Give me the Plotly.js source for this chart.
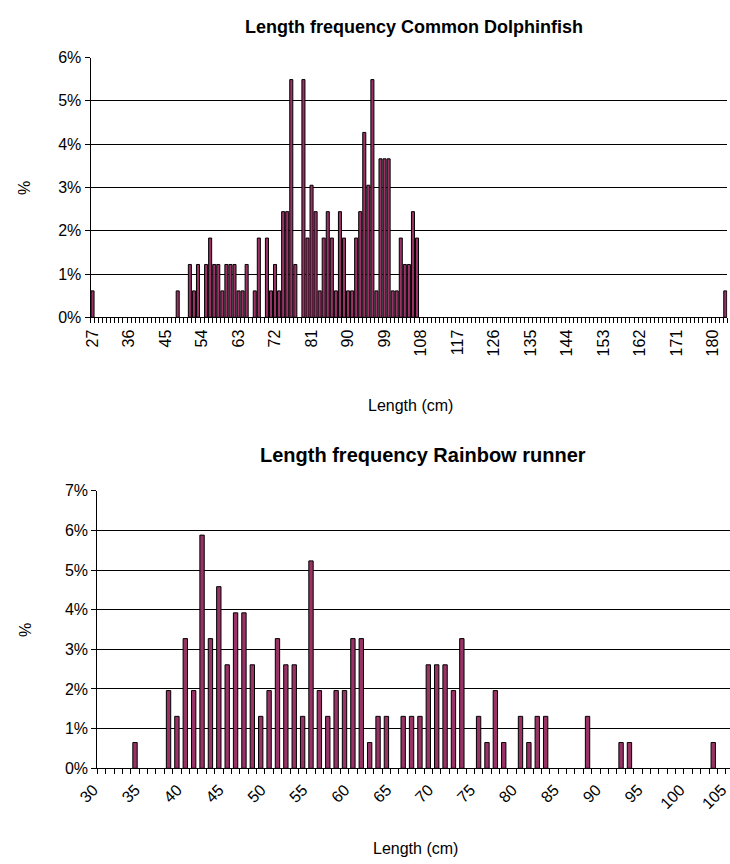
<!DOCTYPE html>
<html>
<head>
<meta charset="utf-8">
<script src="https://cdn.plot.ly/plotly-3.0.1.min.js"></script>
<style>
  html, body { margin: 0; padding: 0; overflow: hidden; background: #fff; }
  #chart { width: 760px; height: 864px; }
</style>
</head>
<body>
<div id="chart"></div>
<script>
// ---- Common Dolphinfish: length (cm) and share of catch (%) ----
const dolphinLength = [27, 48, 51, 52, 53, 55, 56, 57, 58, 59, 60, 61, 62, 63, 64, 65, 67, 68, 70, 71,
  72, 73, 74, 75, 76, 77, 79, 80, 81, 82, 83, 84, 85, 86, 87, 88, 89, 90, 91, 92,
  93, 94, 95, 96, 97, 98, 99, 100, 101, 102, 103, 104, 105, 106, 107, 183];
const dolphinPct = [0.61, 0.61, 1.22, 0.61, 1.22, 1.22, 1.83, 1.22, 1.22, 0.61, 1.22, 1.22, 1.22, 0.61, 0.61, 1.22, 0.61, 1.83, 1.83, 0.61,
  1.22, 0.61, 2.44, 2.44, 5.49, 1.22, 5.49, 1.83, 3.05, 2.44, 0.61, 1.83, 2.44, 1.83, 0.61, 2.44, 1.83, 0.61, 0.61, 1.83,
  2.44, 4.27, 3.05, 5.49, 0.61, 3.66, 3.66, 3.66, 0.61, 0.61, 1.83, 1.22, 1.22, 2.44, 1.83, 0.61];
const dolphinTicks = [27, 36, 45, 54, 63, 72, 81, 90, 99, 108, 117, 126, 135, 144, 153, 162, 171, 180];

// ---- Rainbow runner: length (cm) and share of catch (%) ----
const runnerLength = [34, 38, 39, 40, 41, 42, 43, 44, 45, 46, 47, 48, 49, 50, 51, 52, 53, 54, 55, 56,
  57, 58, 59, 60, 61, 62, 63, 64, 66, 67, 68, 69, 70, 71, 72, 73, 75, 76, 77, 78,
  80, 81, 82, 83, 88, 92, 93, 103];
const runnerPct = [0.65, 1.96, 1.31, 3.27, 1.96, 5.88, 3.27, 4.58, 2.61, 3.92, 3.92, 2.61, 1.31, 1.96, 3.27, 2.61, 2.61, 1.31, 5.23, 1.96,
  1.31, 1.96, 1.96, 3.27, 3.27, 0.65, 1.31, 1.31, 1.31, 1.31, 1.31, 2.61, 2.61, 2.61, 1.96, 3.27, 1.31, 0.65, 1.96, 0.65,
  1.31, 0.65, 1.31, 1.31, 1.31, 0.65, 0.65, 0.65];
const runnerTicks = [30, 35, 40, 45, 50, 55, 60, 65, 70, 75, 80, 85, 90, 95, 100, 105];

const W = 760, H = 864;
const FONT = 'Liberation Sans, Arial, sans-serif';
const px = v => v / W;
const py = v => 1 - v / H;

const barColor = '#993366';

const traces = [
  {
    type: 'bar', x: dolphinLength, y: dolphinPct, xaxis: 'x', yaxis: 'y',
    width: 0.75, marker: { color: barColor, line: { color: '#000', width: 1 } },
    hoverinfo: 'x+y'
  },
  {
    type: 'bar', x: runnerLength, y: runnerPct, xaxis: 'x2', yaxis: 'y2',
    width: 0.52, marker: { color: barColor, line: { color: '#000', width: 1 } },
    hoverinfo: 'x+y'
  }
];

const tickFont = { family: FONT, size: 16, color: '#000' };

function xAxis(domain, range, ticks, angle, minorStart) {
  return {
    domain: domain, range: range,
    tickmode: 'array', tickvals: ticks, ticktext: ticks.map(String),
    tickangle: angle, tickfont: tickFont,
    ticks: 'outside', ticklen: 5, tickcolor: 'rgba(0,0,0,0)',
    showline: true, linecolor: '#000', linewidth: 1,
    showgrid: false, zeroline: false,
    minor: { tickmode: 'linear', tick0: minorStart, dtick: 1, ticks: 'outside', ticklen: 5, tickcolor: '#000', tickwidth: 1, showgrid: false }
  };
}
function yAxis(domain, maxVal, anchor) {
  return {
    domain: domain, range: [0, maxVal], anchor: anchor,
    tickmode: 'linear', tick0: 0, dtick: 1, ticksuffix: '%',
    tickfont: tickFont, ticks: 'outside', ticklen: 5, tickcolor: '#000',
    showline: true, linecolor: '#000', linewidth: 1,
    showgrid: true, gridcolor: '#000', gridwidth: 1, zeroline: false
  };
}

const xa1 = xAxis([px(90.5), px(727.3)], [26.5, 183.5], dolphinTicks, -90, 26.5);
xa1.anchor = 'y';
const xa2 = xAxis([px(97.3), px(734.2)], [29.5, 105.5], runnerTicks, -45, 29.5);
xa2.anchor = 'y2';
xa2.ticklabelshift = -8;

const ann = (text, x, y, size, angle) => ({
  text: text, xref: 'paper', yref: 'paper', x: px(x), y: py(y),
  xanchor: 'center', yanchor: 'middle', showarrow: false,
  textangle: angle || 0, font: { family: FONT, size: size, color: '#000' }
});

const layout = {
  width: W, height: H,
  margin: { l: 0, r: 0, t: 0, b: 0 },
  paper_bgcolor: '#fff', plot_bgcolor: '#fff',
  showlegend: false,
  xaxis: xa1,
  yaxis: yAxis([1 - 317.3 / H, 1 - 57.5 / H], 6, 'x'),
  xaxis2: xa2,
  yaxis2: yAxis([1 - 768.3 / H, 1 - 490.7 / H], 7, 'x2'),
  annotations: [
    ann('<b>Length frequency Common Dolphinfish</b>', 414, 27, 18),
    ann('%', 25, 188, 16, -90),
    ann('Length (cm)', 410, 405, 16),
    ann('<b>Length frequency Rainbow runner</b>', 423, 455, 20),
    ann('%', 25, 630, 16, -90),
    ann('Length (cm)', 415, 848, 16)
  ]
};

Plotly.newPlot('chart', traces, layout, { staticPlot: true, displayModeBar: false });
</script>
</body>
</html>
